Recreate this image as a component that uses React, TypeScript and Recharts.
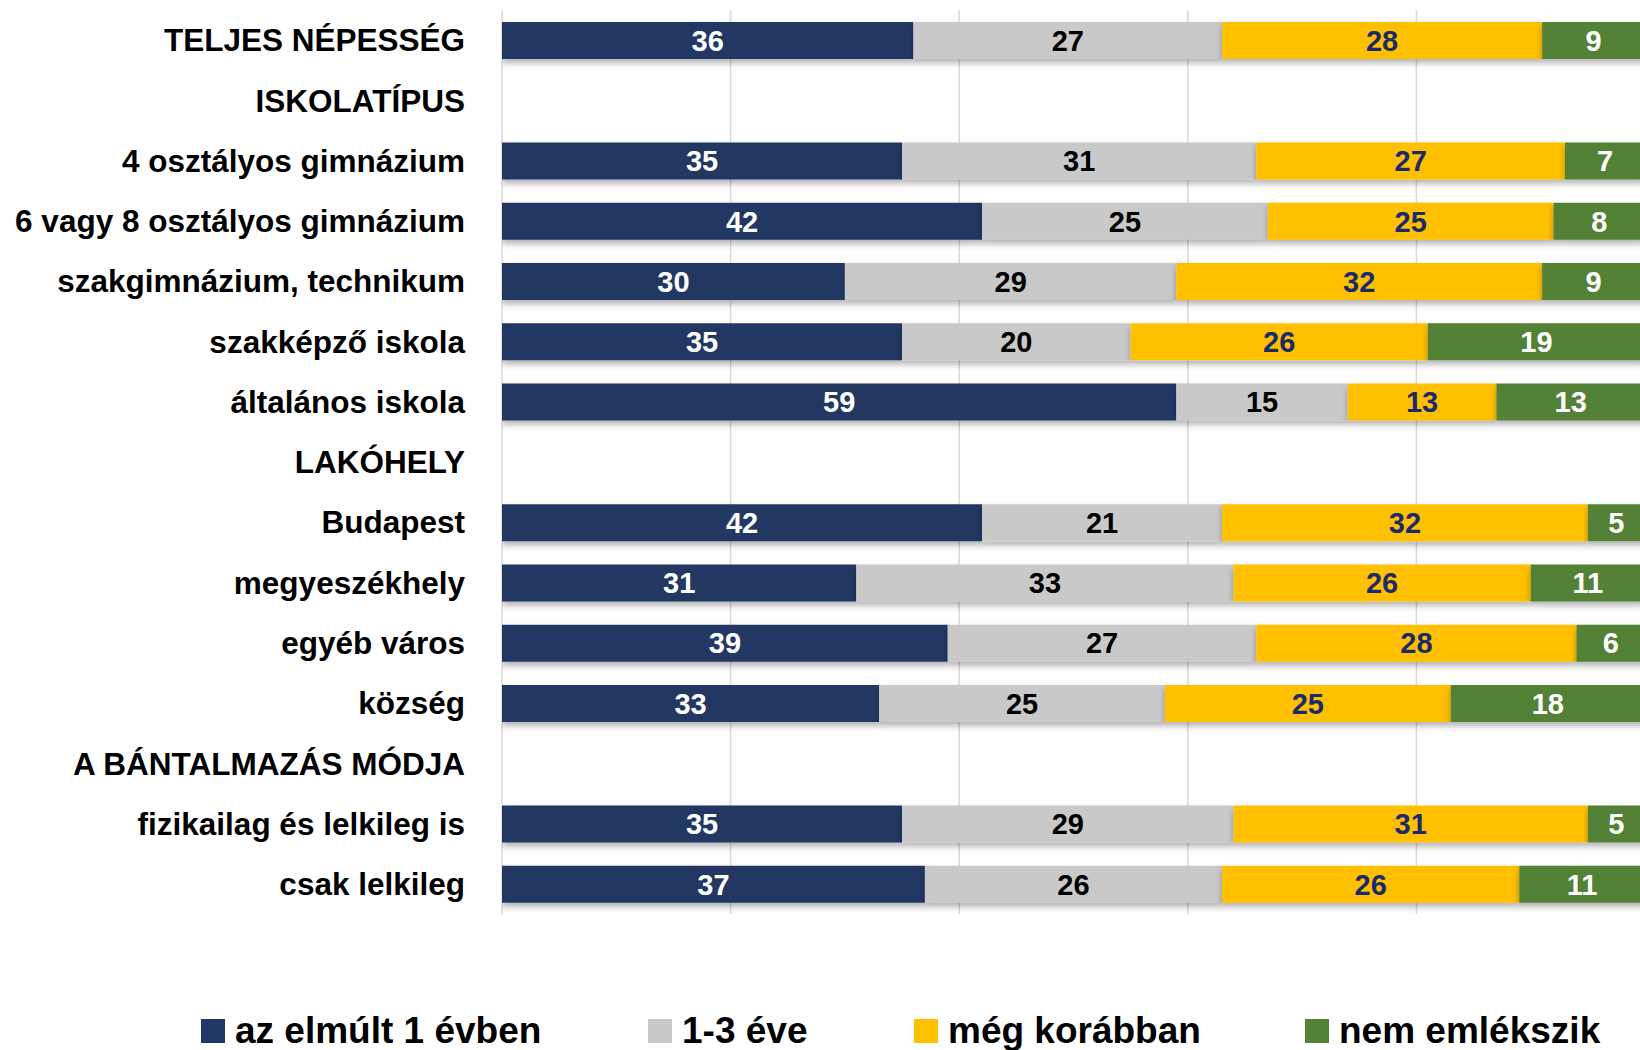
import React from 'react';
import { BarChart, Bar, XAxis, YAxis, CartesianGrid, LabelList, Legend, Rectangle } from 'recharts';

const categories: string[] = [
  'TELJES NÉPESSÉG',
  'ISKOLATÍPUS',
  '4 osztályos gimnázium',
  '6 vagy 8 osztályos gimnázium',
  'szakgimnázium, technikum',
  'szakképző iskola',
  'általános iskola',
  'LAKÓHELY',
  'Budapest',
  'megyeszékhely',
  'egyéb város',
  'község',
  'A BÁNTALMAZÁS MÓDJA',
  'fizikailag és lelkileg is',
  'csak lelkileg',
];

const lastYear: (number | null)[] = [36, null, 35, 42, 30, 35, 59, null, 42, 31, 39, 33, null, 35, 37];
const oneToThree: (number | null)[] = [27, null, 31, 25, 29, 20, 15, null, 21, 33, 27, 25, null, 29, 26];
const earlier: (number | null)[] = [28, null, 27, 25, 32, 26, 13, null, 32, 26, 28, 25, null, 31, 26];
const notRemember: (number | null)[] = [9, null, 7, 8, 9, 19, 13, null, 5, 11, 6, 18, null, 5, 11];

const seriesNames = ['az elmúlt 1 évben', '1-3 éve', 'még korábban', 'nem emlékszik'];
const seriesKeys = ['a', 'b', 'c', 'd'];
const seriesColors = ['#203864', '#C9C9C9', '#FFC000', '#538135'];
const labelColors = ['#FFFFFF', '#000000', '#1B2A6B', '#FFFFFF'];
const xTicks = [0, 20, 40, 60, 80, 100];

const data = categories.map((name, i) => ({
  name,
  a: lastYear[i],
  b: oneToThree[i],
  c: earlier[i],
  d: notRemember[i],
}));

const FONT = '"Liberation Sans", Arial, sans-serif';

const ShadowBar = (props: any) => {
  const { x, y, width, height, fill } = props;
  if (!width || !height) return null;
  return (
    <g filter="url(#barShadow)">
      <Rectangle x={x} y={y} width={width} height={height} fill={fill} />
    </g>
  );
};

const legendLefts = [201, 648, 914, 1305];

const LegendContent = () => (
  <div style={{ position: 'relative', width: 1645, height: 136, fontFamily: FONT }}>
    {seriesNames.map((n, i) => (
      <div key={n} style={{ position: 'absolute', left: legendLefts[i], top: 0, height: 136 }}>
        <div
          style={{
            position: 'absolute',
            left: 0,
            top: 105,
            width: 24,
            height: 24,
            background: seriesColors[i],
          }}
        />
        <div
          style={{
            position: 'absolute',
            left: 34,
            top: 98,
            whiteSpace: 'nowrap',
            fontSize: 37,
            lineHeight: '37px',
            fontWeight: 700,
            color: '#000',
          }}
        >
          {n}
        </div>
      </div>
    ))}
  </div>
);

export default function App() {
  return (
    <div style={{ position: 'fixed', left: 0, top: 0, width: 1640, height: 1050, overflow: 'hidden', background: '#fff' }}>
      <BarChart
        width={1645}
        height={1050}
        data={data}
        layout="vertical"
        margin={{ top: 10, right: 0, bottom: 0, left: 0 }}
        barSize={37}
      >
        <defs>
          <filter id="barShadow" x="-5%" y="-30%" width="110%" height="180%">
            <feDropShadow dx="0" dy="4" stdDeviation="3" floodColor="#000" floodOpacity="0.3" />
          </filter>
        </defs>
        <CartesianGrid horizontal={false} stroke="#D9D9D9" strokeWidth={1.5} />
        <XAxis type="number" domain={[0, 100]} ticks={xTicks} hide allowDataOverflow />
        <YAxis
          type="category"
          dataKey="name"
          width={502}
          tickLine={false}
          axisLine={false}
          tickSize={0}
          tickMargin={37}
          interval={0}
          tick={{ fontFamily: FONT, fontWeight: 700, fontSize: 31.5, fill: '#000' }}
        />
        <Legend verticalAlign="bottom" align="left" wrapperStyle={{ left: 0, bottom: 0, width: 1645, height: 136 }} content={<LegendContent />} />
        {seriesKeys.map((k, i) => (
          <Bar
            key={k}
            dataKey={k}
            name={seriesNames[i]}
            stackId="s"
            fill={seriesColors[i]}
            isAnimationActive={false}
            shape={<ShadowBar />}
          >
            <LabelList
              dataKey={k}
              position="center"
              fill={labelColors[i]}
              style={{ fontFamily: FONT, fontWeight: 700, fontSize: 29 }}
            />
          </Bar>
        ))}
      </BarChart>
    </div>
  );
}
